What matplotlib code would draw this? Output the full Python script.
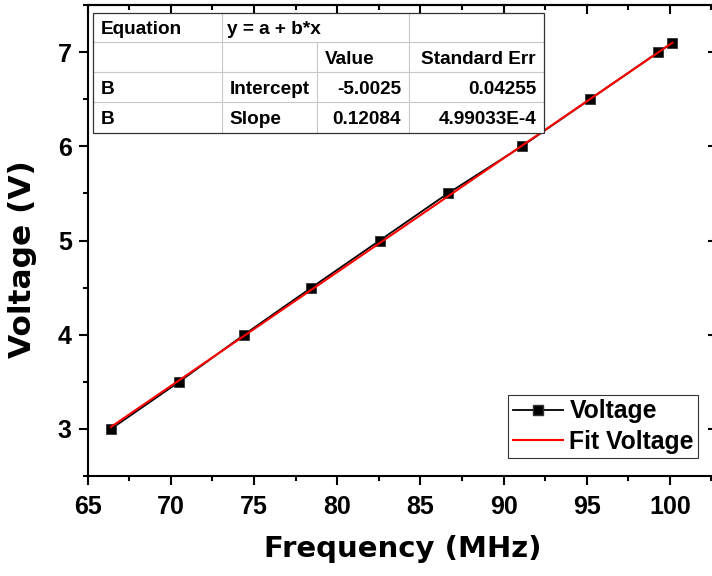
import matplotlib
matplotlib.use("Agg")
import matplotlib.pyplot as plt
from matplotlib.lines import Line2D
from matplotlib.patches import Rectangle
from matplotlib.ticker import MultipleLocator

# ---- data ----
frequency = [66.4, 70.5, 74.4, 78.45, 82.55, 86.65, 91.1, 95.2, 99.3, 100.15]
voltage = [3.0, 3.5, 4.0, 4.5, 5.0, 5.5, 6.0, 6.5, 7.0, 7.1]
fit_intercept = -5.0025
fit_slope = 0.12084
x_ticks = [65, 70, 75, 80, 85, 90, 95, 100]
y_ticks = [3, 4, 5, 6, 7]
series_labels = ["Voltage", "Fit Voltage"]
x_title = "Frequency (MHz)"
y_title = "Voltage (V)"
table_rows = [
    ["Equation", "y = a + b*x", "", ""],
    ["", "", "Value", "Standard Err"],
    ["B", "Intercept", "-5.0025", "0.04255"],
    ["B", "Slope", "0.12084", "4.99033E-4"],
]

plt.rcParams["font.family"] = ["Liberation Sans", "DejaVu Sans"]
plt.rcParams["font.weight"] = "bold"

fig = plt.figure(figsize=(7.12, 5.76), dpi=100)
ax = fig.add_axes([0.1232, 0.1736, 0.8838, 0.8177])

ax.plot(frequency, voltage, color="black", lw=1.3, marker="s", ms=7.2,
        mfc="black", mec="#333333", mew=0.6, zorder=3)
fx = [frequency[0], frequency[-1]]
fy = [fit_intercept + fit_slope * v for v in fx]
ax.plot(fx, fy, color="#ff0000", lw=1.5, zorder=4)

ax.set_xlim(65, 102.83)
ax.set_ylim(2.5, 7.5)
ax.set_xticks(x_ticks)
ax.set_yticks(y_ticks)
ax.xaxis.set_minor_locator(MultipleLocator(2.5))
ax.yaxis.set_minor_locator(MultipleLocator(0.5))

for s in ax.spines.values():
    s.set_linewidth(1.5)
ax.tick_params(which="major", direction="out", length=6.5, width=1.5,
               labelsize=18, pad=5)
ax.tick_params(axis="x", which="major", pad=7.5)
ax.tick_params(which="minor", direction="out", length=3.6, width=1.5)
for lab in ax.get_xticklabels() + ax.get_yticklabels():
    lab.set_fontweight("bold")

# mirrored top/right ticks pointing inward
top = ax.secondary_xaxis("top")
top.set_xticks(x_ticks)
top.xaxis.set_minor_locator(MultipleLocator(2.5))
top.tick_params(which="major", direction="in", length=6.5, width=1.5, labeltop=False)
top.tick_params(which="minor", direction="in", length=3.6, width=1.5)
top.spines["top"].set_linewidth(1.5)
right = ax.secondary_yaxis("right")
right.set_yticks(y_ticks)
right.yaxis.set_minor_locator(MultipleLocator(0.5))
right.tick_params(which="major", direction="in", length=6.5, width=1.5, labelright=False)
right.tick_params(which="minor", direction="in", length=3.6, width=1.5)
right.spines["right"].set_linewidth(1.5)

ax.set_xlabel(x_title, family="DejaVu Sans", fontsize=21, fontweight="bold")
ax.xaxis.set_label_coords(0.501, -0.125)
ax.xaxis.label.set_va("top")
ax.set_ylabel(y_title, family="DejaVu Sans", fontsize=22.5, fontweight="bold")
ax.yaxis.set_label_coords(-0.081, 0.46)

# legend
handles = [
    Line2D([], [], color="black", lw=1.3, marker="s", ms=7.2, mfc="black", mec="#333333"),
    Line2D([], [], color="#ff0000", lw=1.5),
]
leg = ax.legend(handles, series_labels, loc="upper left", bbox_to_anchor=(0.668, 0.172),
                borderaxespad=0, frameon=True, fancybox=False, shadow=False,
                prop={"family": "Liberation Sans", "weight": "bold", "size": 17.8},
                handlelength=2.05, handletextpad=0.25, labelspacing=0.25,
                borderpad=0.18, numpoints=1)
leg.get_frame().set_edgecolor("black")
leg.get_frame().set_linewidth(0.8)

# fit result table
col_x = [0.00795, 0.2129, 0.3639, 0.5110, 0.7255]
row_y = [0.9837, 0.9214, 0.8577, 0.7941, 0.7289]
tr = ax.transAxes
ax.add_patch(Rectangle((col_x[0], row_y[-1]), col_x[-1] - col_x[0], row_y[0] - row_y[-1],
                       transform=tr, facecolor="white", edgecolor="none", zorder=10, clip_on=False))
grid_c = "#c8c8c8"
for y in row_y[1:-1]:
    ax.plot([col_x[0], col_x[-1]], [y, y], transform=tr, color=grid_c, lw=0.8, zorder=11, clip_on=False)
for i, x in enumerate(col_x[1:-1], start=1):
    y_top = row_y[1] if i == 2 else row_y[0]
    ax.plot([x, x], [row_y[-1], y_top], transform=tr, color=grid_c, lw=0.8, zorder=11, clip_on=False)
ax.add_patch(Rectangle((col_x[0], row_y[-1]), col_x[-1] - col_x[0], row_y[0] - row_y[-1],
                       transform=tr, facecolor="none", edgecolor="#333333", lw=0.9, zorder=12, clip_on=False))
padx = 0.013
for r, row in enumerate(table_rows):
    yc = (row_y[r] + row_y[r + 1]) / 2
    for c, txt in enumerate(row):
        if not txt:
            continue
        if c >= 2 and r >= 2 or (c == 3 and r == 1):
            ax.text(col_x[c + 1] - padx, yc, txt, transform=tr, ha="right", va="center_baseline",
                    fontsize=13.7, fontweight="bold", zorder=13)
        else:
            px = padx if c != 1 or r != 0 else 0.009
            ax.text(col_x[c] + px, yc, txt, transform=tr, ha="left", va="center_baseline",
                    fontsize=13.7, fontweight="bold", zorder=13)

fig.savefig("out.png", dpi=100)
